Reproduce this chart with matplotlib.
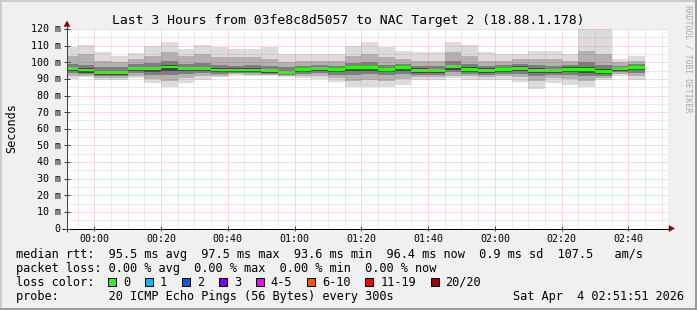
import matplotlib
matplotlib.use("Agg")
import matplotlib.pyplot as plt
from matplotlib.patches import Rectangle, Polygon
from matplotlib.lines import Line2D
import numpy as np

W, H, DPI = 697, 310, 100
MONO = "DejaVu Sans Mono"

# ---------------- data ----------------
title = "Last 3 Hours from 03fe8c8d5057 to NAC Target 2 (18.88.1.178)"
y_label = "Seconds"
x_tick_minutes = [0, 20, 40, 60, 80, 100, 120, 140, 160]
x_tick_labels = ["00:00", "00:20", "00:40", "01:00", "01:20", "01:40", "02:00", "02:20", "02:40"]
y_tick_values = [0, 10, 20, 30, 40, 50, 60, 70, 80, 90, 100, 110, 120]
y_tick_labels = ["0", "10 m", "20 m", "30 m", "40 m", "50 m", "60 m", "70 m", "80 m",
                 "90 m", "100 m", "110 m", "120 m"]

# 5-minute RRD steps, minutes relative to 00:00 (23:50 ... 02:40)
bar_start_min = list(range(-10, 165, 5))

median = [96.1, 95.3, 93.8, 93.8, 96.1, 96.1, 97.1, 96.1, 96.1, 95.3, 95.3, 95.3, 94.9, 93.8,
          95.5, 96.1, 95.5, 96.7, 96.7, 95.5, 96.7, 95.1, 95.1, 97.3, 95.7, 95.1, 95.7, 96.3,
          95.1, 95.1, 95.7, 95.7, 94.5, 96.3, 96.9]
ping_max = [108.9, 110.1, 105.9, 103.5, 105.7, 109.5, 111.9, 108.1, 110.5, 109.2, 108.1, 108.1,
            108.9, 105.1, 105.0, 105.0, 105.0, 109.5, 111.9, 108.9, 106.5, 105.9, 105.9, 112.3,
            110.5, 105.9, 105.1, 105.1, 106.5, 106.5, 105.1, 121.0, 121.0, 101.9, 103.9]
ping_hi2 = [104, 105, 101, 100, 102, 104, 106, 104, 105, 103, 103, 103, 102, 100, 101, 101, 101,
            104, 105, 103, 102, 101, 101, 106, 104, 101, 101, 102, 102, 102, 101, 107, 105, 100, 101]
ping_hi3 = [99, 98.5, 97, 97, 99, 99.5, 101, 99, 99.5, 98.5, 98, 98.5, 98, 97, 98, 98.5, 98,
            99.5, 100, 98.5, 99, 98, 98, 100.5, 99, 98, 98.5, 99, 98.5, 98, 98.5, 100, 98.5, 98, 99]
core_hi = [97.3, 96.6, 95.0, 95.0, 97.2, 97.4, 98.5, 97.2, 97.3, 96.5, 96.4, 96.5, 96.0, 95.0,
           96.7, 97.2, 96.6, 98.0, 98.0, 96.7, 97.8, 96.3, 96.2, 98.6, 96.9, 96.3, 96.8, 97.5,
           96.3, 96.2, 96.9, 97.2, 95.9, 97.3, 98.0]
core_lo = [94.8, 93.8, 92.5, 92.6, 94.8, 94.2, 94.8, 94.6, 94.9, 94.2, 94.3, 94.2, 93.8, 92.8,
           94.3, 94.8, 94.1, 94.5, 94.8, 94.0, 94.8, 93.6, 93.6, 95.6, 94.3, 93.6, 94.3, 94.9,
           93.5, 93.7, 94.0, 93.8, 93.0, 95.0, 95.2]
ping_lo3 = [93.5, 93, 91.5, 91.5, 93.5, 92.5, 92.5, 93, 93.5, 93, 93.5, 93.5, 93, 92.5, 93, 93.5,
            92.5, 92.5, 93, 92.5, 93, 92.5, 92.5, 94, 93, 92.5, 93, 93, 92, 92.5, 92.5, 92, 92, 94, 93.5]
ping_lo2 = [91.5, 92, 90.5, 90.5, 92, 90, 89, 90.5, 91.5, 92, 92.8, 92.5, 92.3, 91.8, 91.8, 91.5,
            90.5, 89, 89.5, 89, 90, 91, 91, 92, 91.5, 91, 91.5, 91, 89, 90.5, 90, 89, 90.5, 93, 91.5]
ping_min = [90.0, 91.0, 89.5, 89.5, 90.5, 87.5, 85.0, 87.8, 89.5, 91.0, 92.0, 91.5, 91.5, 91.0,
            90.5, 90.0, 88.4, 85.0, 85.0, 85.0, 86.4, 89.5, 89.5, 90.5, 89.5, 89.5, 89.5, 88.4,
            83.8, 87.5, 86.4, 85.0, 89.5, 91.8, 89.5]

legend_rtt = "median rtt:  95.5 ms avg  97.5 ms max  93.6 ms min  96.4 ms now  0.9 ms sd  107.5   am/s"
legend_loss = "packet loss: 0.00 % avg  0.00 % max  0.00 % min  0.00 % now"
loss_labels = ["0", "1", "2", "3", "4-5", "6-10", "11-19", "20/20"]
loss_colors = ["#26ff00", "#00b8ff", "#0059ff", "#7e00ff", "#ff00ff", "#ff5500", "#ff0000", "#a00000"]
probe_text = "probe:       20 ICMP Echo Pings (56 Bytes) every 300s"
date_text = "Sat Apr  4 02:51:51 2026"
watermark = "RRDTOOL / TOBI OETIKER"

# ---------------- figure ----------------
fig = plt.figure(figsize=(W / DPI, H / DPI), dpi=DPI, facecolor="#f0f0f0")


def fx(px):
    return px / W


def fy(py):
    return 1 - py / H


PX = 72 / DPI  # one pixel in points

# plot area: x 67..668 px, y 29..228.5 px
ax = fig.add_axes([fx(67), fy(228.5), fx(668) - fx(67), fy(29) - fy(228.5)])
ax.set_facecolor("white")
x0_min, x1_min = -8.15, 171.85
ax.set_xlim(x0_min, x1_min)
ax.set_ylim(0, 120)
for s in ax.spines.values():
    s.set_visible(False)
ax.set_xticks([])
ax.set_yticks([])

med = np.array(median)
layers = [
    (ping_min, ping_max, "#dcdcdc"),
    (ping_lo2, ping_hi2, "#b2b2b2"),
    (ping_lo3, ping_hi3, "#7e7e7e"),
    (core_lo, core_hi, "#474747"),
]
for lo, hi, col in layers:
    lo = np.array(lo)
    hi = np.array(hi)
    ax.bar(bar_start_min, hi - lo, bottom=lo, width=5, align="edge", color=col,
           linewidth=0, zorder=2)
ax.bar(bar_start_min, 1.5, bottom=med - 0.75, width=5, align="edge", color=loss_colors[0],
       linewidth=0, zorder=3)

# grid (drawn over the graph like rrdtool)
minor_col = (0.5, 0.5, 0.5, 0.32)
major_col = (0.95, 0.25, 0.25, 0.38)
dot = (0, (1, 1))
for v in np.arange(5, 121, 5):
    major = (v % 10 == 0)
    ax.axhline(v, color=major_col if major else minor_col, lw=PX, ls=dot, zorder=4)
for m in np.arange(-5, 171, 5):
    major = (m % 20 == 0)
    ax.axvline(m, color=major_col if major else minor_col, lw=PX, ls=dot, zorder=4)

# axes lines with arrows (figure pixel coords)
def fline(xa, ya, xb, yb, col, lw=1):
    fig.add_artist(Line2D([fx(xa), fx(xb)], [fy(ya), fy(yb)], color=col, lw=lw * PX,
                          solid_capstyle="butt"))


def ftri(pts, col):
    fig.add_artist(Polygon([(fx(a), fy(b)) for a, b in pts], closed=True, facecolor=col,
                           edgecolor=col, lw=0.3))

fline(62, 228.5, 669, 228.5, "#000000")
fline(67, 232, 67, 26, "#404040")
ftri([(669, 225.5), (674.5, 228.5), (669, 231.5)], "#8b0000")
ftri([(64, 26.5), (67, 21), (70, 26.5)], "#8b0000")

# tick marks
for v in y_tick_values:
    py = 228.5 - v * (199.5 / 120)
    fline(64, py, 70, py, "#404040")
for m in x_tick_minutes:
    px = 67 + (m - x0_min) * (601 / 180)
    fline(px, 226, px, 231, "#404040")

# tick labels
for v, lab in zip(y_tick_values, y_tick_labels):
    py = 228.5 - v * (199.5 / 120)
    fig.text(fx(60.5), fy(py + 3.5), lab, ha="right", va="baseline", family=MONO,
             fontsize=7.2, color="#000000")
for m, lab in zip(x_tick_minutes, x_tick_labels):
    px = 67 + (m - x0_min) * (601 / 180)
    fig.text(fx(px), fy(242.3), lab, ha="center", va="baseline", family=MONO,
             fontsize=7.2, color="#000000")

# title, y label, watermark
fig.text(fx(348), fy(24), title, ha="center", va="baseline", family=MONO, fontsize=9.45)
fig.text(fx(12), fy(128), y_label, ha="center", va="center", rotation=90, family=MONO,
         fontsize=8.5)
fig.text(fx(688), fy(59), watermark, ha="center", va="center", rotation=-90, family=MONO,
         fontsize=5.9, color="#a8a8a8")

# legend
LEG_FS = 8.52
CW = 7.123
fig.text(fx(16), fy(257.7), legend_rtt, ha="left", va="baseline", family=MONO, fontsize=LEG_FS)
fig.text(fx(16), fy(271.7), legend_loss, ha="left", va="baseline", family=MONO, fontsize=LEG_FS)
fig.text(fx(16), fy(285.7), "loss color:", ha="left", va="baseline", family=MONO, fontsize=LEG_FS)
x = 108.0
for lab, col in zip(loss_labels, loss_colors):
    fig.add_artist(Rectangle((fx(x), fy(285.7)), fx(8), fy(0) - fy(8), transform=fig.transFigure,
                             facecolor=col, edgecolor="black", lw=PX))
    fig.text(fx(x + 15), fy(285.7), lab, ha="left", va="baseline", family=MONO, fontsize=LEG_FS)
    x += 15 + CW * len(lab) + 14.8
fig.text(fx(16), fy(299.7), probe_text, ha="left", va="baseline", family=MONO, fontsize=LEG_FS)
fig.text(fx(513), fy(299.7), date_text, ha="left", va="baseline", family=MONO, fontsize=LEG_FS)

# image border (rrdtool shade)
fig.add_artist(Rectangle((0, fy(2)), 1, fy(0) - fy(2), transform=fig.transFigure,
                         facecolor="#cbcbcb", lw=0))
fig.add_artist(Rectangle((0, 0), fx(2), 1, transform=fig.transFigure, facecolor="#cbcbcb", lw=0))
fig.add_artist(Rectangle((fx(695), 0), fx(2), 1, transform=fig.transFigure,
                         facecolor="#9a9a9a", lw=0))
fig.add_artist(Rectangle((0, 0), 1, fy(308), transform=fig.transFigure,
                         facecolor="#9a9a9a", lw=0))

fig.savefig("out.png", dpi=DPI, facecolor=fig.get_facecolor())
